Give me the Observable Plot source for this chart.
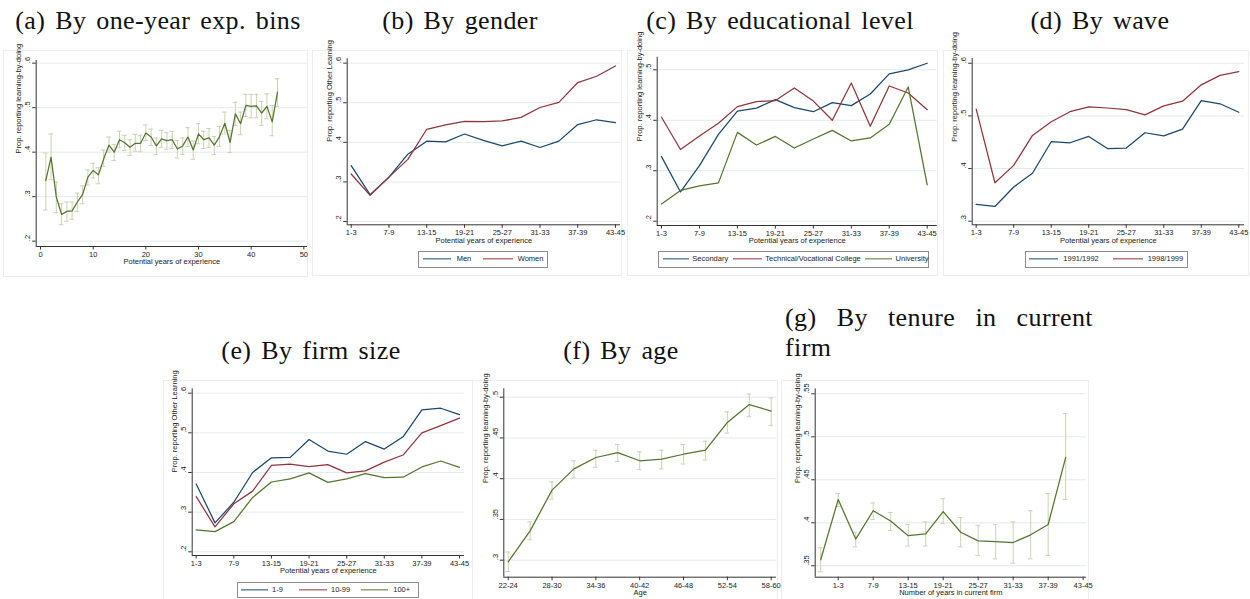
<!DOCTYPE html>
<html>
<head>
<meta charset="utf-8">
<script src="https://cdn.jsdelivr.net/npm/d3@7"></script>
<script src="https://cdn.jsdelivr.net/npm/@observablehq/plot@0.6"></script>
<style>
  html, body { margin: 0; padding: 0; background: #fff; }
  #fig { position: relative; width: 1250px; height: 599px; overflow: hidden; background: #fff; }
  .title { position: absolute; font-family: "Liberation Serif", "DejaVu Serif", serif; font-size: 26px; line-height: 26px;
           letter-spacing: 0.4px; word-spacing: 3px; color: #111; white-space: nowrap; text-align: center; }
  .box { position: absolute; border: 1px solid #eeeeee; box-sizing: border-box; }
  .panel { position: absolute; }
  .panel svg { display: block; }
  .legend { position: absolute; border: 1px solid #8c8c8c; background: #fff; box-sizing: border-box;
            font-family: "Liberation Sans", Arial, sans-serif; font-size: 7.5px; color: #222; }
  .legend .key { position: absolute; top: 50%; height: 0; border-top: 1.3px solid; transform: translateY(-0.65px); }
  .legend .lab { position: absolute; top: 50%; transform: translateY(-50%); white-space: nowrap; line-height: 1; }
</style>
</head>
<body>
<div id="fig"></div>
<script>
// ---------- categories ----------
const oneYearExp = [1,2,3,4,5,6,7,8,9,10,11,12,13,14,15,16,17,18,19,20,21,22,23,24,25,26,27,28,29,30,
                    31,32,33,34,35,36,37,38,39,40,41,42,43,44,45];
const expBins = ["1-3","4-6","7-9","10-12","13-15","16-18","19-21","22-24","25-27","28-30",
                 "31-33","34-36","37-39","40-42","43-45"];
const ageBins = ["22-24","25-27","28-30","31-33","34-36","37-39","40-42","43-45","46-48","49-51",
                 "52-54","55-57","58-60"];
const tenureBins = ["0","1-3","4-6","7-9","10-12","13-15","16-18","19-21","22-24","25-27",
                    "28-30","31-33","34-36","37-39","40-42","43-45"];

// ---------- (a) learning-by-doing by one-year experience bins ----------
const lbdOneYear   = [0.336,0.389,0.299,0.260,0.267,0.268,0.288,0.305,0.344,0.359,0.349,0.385,0.416,0.400,0.428,
                      0.421,0.411,0.420,0.420,0.443,0.434,0.414,0.430,0.426,0.428,0.407,0.414,0.434,0.405,0.441,
                      0.428,0.432,0.416,0.435,0.465,0.422,0.486,0.464,0.505,0.503,0.504,0.488,0.503,0.468,0.535];
const lbdOneYearLo = [0.270,0.338,0.264,0.237,0.245,0.249,0.267,0.284,0.326,0.342,0.329,0.368,0.400,0.381,0.410,
                      0.404,0.393,0.402,0.401,0.426,0.415,0.395,0.411,0.407,0.408,0.387,0.395,0.413,0.384,0.419,
                      0.408,0.411,0.395,0.413,0.441,0.399,0.460,0.439,0.480,0.477,0.477,0.460,0.475,0.437,0.503];
const lbdOneYearHi = [0.398,0.441,0.333,0.284,0.288,0.288,0.308,0.324,0.360,0.375,0.365,0.405,0.434,0.417,0.447,
                      0.438,0.428,0.440,0.438,0.461,0.452,0.432,0.449,0.444,0.447,0.426,0.432,0.455,0.425,0.464,
                      0.447,0.453,0.435,0.458,0.490,0.449,0.512,0.490,0.530,0.530,0.530,0.514,0.531,0.505,0.565];

// ---------- (b) other learning by gender ----------
const genderMen   = [0.341,0.268,0.312,0.370,0.403,0.401,0.421,0.405,0.391,0.403,0.387,0.403,0.445,0.457,0.450];
const genderWomen = [0.320,0.266,0.312,0.357,0.433,0.444,0.453,0.452,0.454,0.463,0.488,0.501,0.551,0.567,0.593];

// ---------- (c) learning-by-doing by educational level ----------
const eduSecondary  = [0.328,0.258,0.310,0.372,0.418,0.424,0.441,0.425,0.417,0.435,0.429,0.452,0.492,0.500,0.513];
const eduTechnical  = [0.406,0.342,0.369,0.394,0.427,0.437,0.439,0.464,0.438,0.400,0.474,0.388,0.468,0.454,0.421];
const eduUniversity = [0.234,0.261,0.270,0.276,0.376,0.351,0.368,0.345,0.363,0.380,0.359,0.365,0.392,0.466,0.272];

// ---------- (d) learning-by-doing by survey wave ----------
const wave9192 = [0.332,0.328,0.365,0.391,0.451,0.449,0.461,0.438,0.439,0.468,0.462,0.475,0.529,0.523,0.507];
const wave9899 = [0.513,0.373,0.406,0.463,0.489,0.508,0.517,0.515,0.512,0.502,0.519,0.528,0.559,0.577,0.584];

// ---------- (e) other learning by firm size ----------
const size1to9    = [0.371,0.273,0.325,0.400,0.437,0.438,0.483,0.454,0.446,0.478,0.459,0.490,0.558,0.562,0.546];
const size10to99  = [0.339,0.263,0.321,0.353,0.418,0.421,0.415,0.420,0.399,0.404,0.426,0.444,0.500,0.518,0.537];
const size100plus = [0.255,0.251,0.276,0.337,0.376,0.384,0.399,0.375,0.384,0.397,0.387,0.388,0.414,0.429,0.413];

// ---------- (f) learning-by-doing by age ----------
const lbdAge   = [0.298,0.336,0.386,0.412,0.426,0.432,0.422,0.424,0.430,0.435,0.469,0.491,0.483];
const lbdAgeLo = [0.286,0.325,0.375,0.401,0.414,0.421,0.411,0.412,0.418,0.423,0.456,0.476,0.465];
const lbdAgeHi = [0.310,0.347,0.396,0.422,0.435,0.442,0.433,0.435,0.442,0.446,0.482,0.504,0.499];

// ---------- (g) learning-by-doing by tenure in current firm ----------
const lbdTenure   = [0.357,0.427,0.381,0.414,0.402,0.385,0.387,0.413,0.389,0.379,0.378,0.377,0.386,0.398,0.476];
const lbdTenureLo = [0.343,0.419,0.372,0.404,0.391,0.373,0.373,0.399,0.372,0.362,0.358,0.353,0.358,0.362,0.427];
const lbdTenureHi = [0.371,0.434,0.389,0.423,0.412,0.398,0.401,0.428,0.406,0.397,0.398,0.401,0.414,0.434,0.527];

// ---------- styling ----------
const INK = "#222", AXIS = "#333", GRID = "#e3ebec";
const BLUE = "#1a476f", RED = "#90353b", GREEN = "#55752f", CI_COLOR = "#cdd1b5";
const LBD = "Prop. reporting learning-by-doing";
const OTHER = "Prop. reporting Other Learning";
const EXP = "Potential years of experience";

const fmtY = v => String(+v.toFixed(2)).replace(/^0\./, ".");
const oddTicks = n => d3.range(1, n + 1, 2);

// rows for a binned series: x is the 1-based bin position
const binRows = (vals, offset = 1) => vals.map((y, i) => ({x: i + offset, y}));
const ciRows = (xs, vals, lo, hi) => vals.map((y, i) => ({x: xs[i], y, lo: lo[i], hi: hi[i]}));

function seriesLines(list) {
  return list.map(s => Plot.line(binRows(s.values), {x: "x", y: "y", stroke: s.color, strokeWidth: 1.25, strokeLinejoin: "round"}));
}

function ciMarks(rows, cap) {
  return [
    Plot.ruleX(rows, {x: "x", y1: "lo", y2: "hi", stroke: CI_COLOR, strokeWidth: 1}),
    Plot.ruleY(rows, {y: "lo", x1: d => d.x - cap, x2: d => d.x + cap, stroke: CI_COLOR, strokeWidth: 1}),
    Plot.ruleY(rows, {y: "hi", x1: d => d.x - cap, x2: d => d.x + cap, stroke: CI_COLOR, strokeWidth: 1}),
    Plot.line(rows, {x: "x", y: "y", stroke: GREEN, strokeWidth: 1.25, strokeLinejoin: "round"})
  ];
}

function makePlot(cfg) {
  const [mt, mr, mb, ml] = cfg.margin;
  const pxPerUnit = (cfg.width - ml - mr) / (cfg.xDomain[1] - cfg.xDomain[0]);
  const marks = typeof cfg.marks === "function" ? cfg.marks(2.3 / pxPerUnit) : cfg.marks;
  return Plot.plot({
    width: cfg.width, height: cfg.height,
    marginTop: mt, marginRight: mr, marginBottom: mb, marginLeft: ml,
    x: {domain: cfg.xDomain},
    y: {domain: cfg.yDomain},
    style: {fontFamily: '"Liberation Sans", Arial, sans-serif', fontSize: "7.5px", color: INK,
            background: "transparent", overflow: "visible"},
    marks: [
      Plot.ruleY(cfg.yTicks, {stroke: GRID, strokeWidth: 1}),
      ...marks,
      Plot.ruleX([cfg.xDomain[0]], {stroke: AXIS, strokeWidth: 1}),
      Plot.ruleY([cfg.yDomain[0]], {stroke: AXIS, strokeWidth: 1}),
      Plot.axisX({ticks: cfg.xTicks, tickFormat: cfg.xFormat, tickSize: 3.5, tickPadding: 1.5, label: null, stroke: AXIS}),
      Plot.axisY({ticks: cfg.yTicks, tickFormat: () => "", tickSize: 3.5, label: null, stroke: AXIS}),
      Plot.text(cfg.yTicks, {y: d => d, text: fmtY, frameAnchor: "left", dx: -8.5, rotate: -90}),
      Plot.text([cfg.xLabel], {text: d => d, frameAnchor: "bottom", dy: 17.8}),
      Plot.text([cfg.yLabel], {text: d => d, frameAnchor: "left", dx: -18, rotate: -90})
    ]
  });
}

const panels = [
  { // (a)
    left: 3, top: 50, width: 305, height: 227, margin: [10, 1, 31, 32.7],
    xDomain: [-0.82, 50.7], yDomain: [0.188, 0.606],
    xTicks: [0, 10, 20, 30, 40, 50], xFormat: d => String(d),
    yTicks: [0.2, 0.3, 0.4, 0.5, 0.6], xLabel: EXP, yLabel: LBD,
    marks: cap => ciMarks(ciRows(oneYearExp, lbdOneYear, lbdOneYearLo, lbdOneYearHi), cap)
  },
  { // (b)
    left: 312, top: 50, width: 310, height: 200, margin: [8.3, 2, 25.7, 34.7],
    xDomain: [0.788, 15.265], yDomain: [0.1917, 0.611],
    xTicks: oddTicks(15), xFormat: d => expBins[d - 1],
    yTicks: [0.2, 0.3, 0.4, 0.5, 0.6], xLabel: EXP, yLabel: OTHER,
    marks: seriesLines([{values: genderMen, color: BLUE}, {values: genderWomen, color: RED}])
  },
  { // (c)
    left: 628, top: 50, width: 310, height: 200, margin: [6.7, 1.3, 25, 28.7],
    xDomain: [0.773, 15.527], yDomain: [0.1915, 0.525],
    xTicks: oddTicks(15), xFormat: d => expBins[d - 1],
    yTicks: [0.2, 0.3, 0.4, 0.5], xLabel: EXP, yLabel: LBD,
    marks: seriesLines([{values: eduSecondary, color: BLUE}, {values: eduTechnical, color: RED},
                        {values: eduUniversity, color: GREEN}])
  },
  { // (d)
    left: 943, top: 50, width: 307, height: 200, margin: [8, 6, 25.7, 28.7],
    xDomain: [0.787, 15.304], yDomain: [0.2932, 0.609],
    xTicks: oddTicks(15), xFormat: d => expBins[d - 1],
    yTicks: [0.3, 0.4, 0.5, 0.6], xLabel: EXP, yLabel: LBD,
    marks: seriesLines([{values: wave9192, color: BLUE}, {values: wave9899, color: RED}])
  },
  { // (e)
    left: 163, top: 380, width: 310, height: 200, margin: [8.3, 9, 25, 28.7],
    xDomain: [0.787, 15.266], yDomain: [0.1907, 0.611],
    xTicks: oddTicks(15), xFormat: d => expBins[d - 1],
    yTicks: [0.2, 0.3, 0.4, 0.5, 0.6], xLabel: EXP, yLabel: OTHER,
    marks: seriesLines([{values: size1to9, color: BLUE}, {values: size10to99, color: RED},
                        {values: size100plus, color: GREEN}])
  },
  { // (f)
    left: 473, top: 380, width: 305, height: 219, margin: [8.3, 2, 22.3, 30.3],
    xDomain: [0.799, 13.242], yDomain: [0.2791, 0.5103],
    xTicks: oddTicks(13), xFormat: d => ageBins[d - 1],
    yTicks: [0.3, 0.35, 0.4, 0.45, 0.5], xLabel: "Age", yLabel: LBD,
    marks: cap => ciMarks(ciRows(lbdAge.map((_, i) => i + 1), lbdAge, lbdAgeLo, lbdAgeHi), cap)
  },
  { // (g)
    left: 783, top: 380, width: 307, height: 219, margin: [8.3, 4, 22.3, 31.7],
    xDomain: [-0.314, 15.19], yDomain: [0.3367, 0.5558],
    xTicks: oddTicks(15), xFormat: d => tenureBins[d],
    yTicks: [0.35, 0.4, 0.45, 0.5, 0.55], xLabel: "Number of years in current firm", yLabel: LBD,
    marks: cap => ciMarks(ciRows(lbdTenure.map((_, i) => i), lbdTenure, lbdTenureLo, lbdTenureHi), cap)
  }
];

const fig = document.getElementById("fig");

// light graph-region frames
const frames = [[3, 50, 305, 227], [312, 50, 310, 226], [627, 50, 311, 226], [943, 50, 306, 226],
                [163, 380, 310, 225], [472, 380, 306, 225], [781, 380, 308, 225]];
for (const [l, t, w, h] of frames) {
  const b = document.createElement("div");
  b.className = "box";
  Object.assign(b.style, {left: l + "px", top: t + "px", width: w + "px", height: h + "px"});
  fig.appendChild(b);
}

for (const cfg of panels) {
  const holder = document.createElement("div");
  holder.className = "panel";
  holder.style.left = cfg.left + "px";
  holder.style.top = cfg.top + "px";
  holder.appendChild(makePlot(cfg));
  fig.appendChild(holder);
}

// legends
const legends = [
  {left: 418.3, top: 250.7, width: 130, height: 17, items: [
    {label: "Men", color: BLUE, key: 3.4, keyW: 28.3, text: 37.4},
    {label: "Women", color: RED, key: 64, keyW: 29.4, text: 98.4}]},
  {left: 658.3, top: 251, width: 271, height: 16.5, items: [
    {label: "Secondary", color: BLUE, key: 3.7, keyW: 26.5, text: 33},
    {label: "Technical/Vocational College", color: RED, key: 73.5, keyW: 29, text: 106},
    {label: "University", color: GREEN, key: 205.7, keyW: 27, text: 236.3}]},
  {left: 1025, top: 250.7, width: 163.3, height: 17, items: [
    {label: "1991/1992", color: BLUE, key: 3.3, keyW: 28.4, text: 37.3},
    {label: "1998/1999", color: RED, key: 87.3, keyW: 29.4, text: 121.7}]},
  {left: 236.7, top: 582.3, width: 182.6, height: 15.8, items: [
    {label: "1-9", color: BLUE, key: 3.3, keyW: 26.7, text: 34.3},
    {label: "10-99", color: RED, key: 61, keyW: 28, text: 93.3},
    {label: "100+", color: GREEN, key: 123.3, keyW: 26.7, text: 155.6}]}
];
for (const lg of legends) {
  const box = document.createElement("div");
  box.className = "legend";
  Object.assign(box.style, {left: lg.left + "px", top: lg.top + "px", width: lg.width + "px", height: lg.height + "px"});
  for (const it of lg.items) {
    const k = document.createElement("div");
    k.className = "key";
    Object.assign(k.style, {left: it.key + "px", width: it.keyW + "px", borderTopColor: it.color});
    const t = document.createElement("div");
    t.className = "lab";
    t.style.left = it.text + "px";
    t.textContent = it.label;
    box.appendChild(k);
    box.appendChild(t);
  }
  fig.appendChild(box);
}

// sub-figure captions
const BASE = 21.8; // baseline offset inside a 26px line box
const captions = [
  {text: "(a) By one-year exp. bins", cx: 158, baseline: 30},
  {text: "(b) By gender", cx: 460, baseline: 30},
  {text: "(c) By educational level", cx: 780, baseline: 30},
  {text: "(d) By wave", cx: 1100, baseline: 30},
  {text: "(e) By firm size", cx: 311, baseline: 359.3},
  {text: "(f) By age", cx: 621, baseline: 359.3}
];
for (const c of captions) {
  const d = document.createElement("div");
  d.className = "title";
  Object.assign(d.style, {left: (c.cx - 200) + "px", width: "400px", top: (c.baseline - BASE) + "px"});
  d.textContent = c.text;
  fig.appendChild(d);
}
// (g) caption wraps over two justified lines
const g1 = document.createElement("div");
g1.className = "title";
Object.assign(g1.style, {left: "785px", width: "308px", top: (326.7 - BASE) + "px", textAlign: "justify",
                         textAlignLast: "justify", whiteSpace: "normal", wordSpacing: "0px"});
g1.textContent = "(g) By tenure in current";
fig.appendChild(g1);
const g2 = document.createElement("div");
g2.className = "title";
Object.assign(g2.style, {left: "785px", top: (356.7 - BASE) + "px", textAlign: "left"});
g2.textContent = "firm";
fig.appendChild(g2);
</script>
</body>
</html>
